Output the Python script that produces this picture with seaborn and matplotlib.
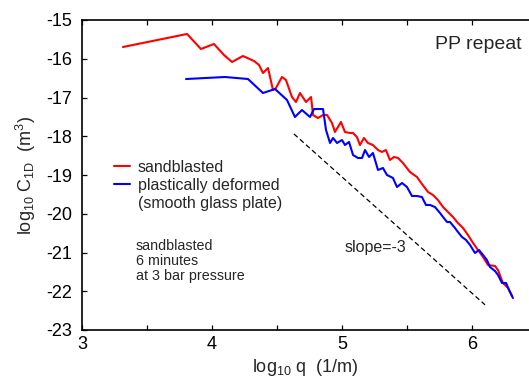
import matplotlib
matplotlib.use("Agg")
import matplotlib.pyplot as plt
import seaborn as sns
import pandas as pd
from matplotlib.lines import Line2D
from matplotlib.ticker import MultipleLocator

# ---- data ----
red_x = [3.315, 3.808, 3.915, 4.015, 4.092, 4.154, 4.238, 4.323, 4.362, 4.392, 4.431, 4.469,
         4.492, 4.538, 4.569, 4.615, 4.646, 4.677, 4.723, 4.762, 4.777, 4.815, 4.854, 4.885,
         4.923, 4.946, 4.992, 5.023, 5.062, 5.085, 5.115, 5.138, 5.169, 5.200, 5.238, 5.277,
         5.308, 5.338, 5.369, 5.400, 5.431, 5.469, 5.523, 5.577, 5.615, 5.662, 5.700, 5.738,
         5.777, 5.815, 5.854, 5.892, 5.931, 5.969, 6.008, 6.046, 6.085, 6.123, 6.177, 6.200,
         6.238, 6.277, 6.308]
red_y = [-15.697, -15.361, -15.748, -15.619, -15.903, -16.084, -15.929, -16.058, -16.161, -16.368,
         -16.239, -16.806, -16.755, -16.471, -16.548, -16.987, -17.116, -16.884, -17.116, -16.987,
         -17.452, -17.529, -17.452, -17.452, -17.658, -17.890, -17.632, -17.890, -17.916, -17.916,
         -18.019, -18.226, -18.045, -18.174, -18.226, -18.355, -18.406, -18.355, -18.613, -18.535,
         -18.561, -18.690, -18.923, -19.052, -19.232, -19.439, -19.516, -19.645, -19.826, -19.955,
         -20.084, -20.239, -20.368, -20.548, -20.755, -20.935, -21.116, -21.323, -21.348, -21.452,
         -21.787, -21.916, -22.123]

blue_x = [3.800, 4.100, 4.277, 4.392, 4.485, 4.577, 4.638, 4.692, 4.754, 4.785, 4.854, 4.877,
          4.908, 4.931, 4.962, 5.000, 5.023, 5.054, 5.085, 5.123, 5.154, 5.177, 5.208, 5.238,
          5.277, 5.315, 5.346, 5.392, 5.423, 5.462, 5.500, 5.538, 5.577, 5.615, 5.646, 5.677,
          5.715, 5.754, 5.777, 5.808, 5.831, 5.869, 5.892, 5.923, 5.954, 5.985, 6.023, 6.054,
          6.085, 6.115, 6.138, 6.177, 6.200, 6.231, 6.262, 6.285, 6.315]
blue_y = [-16.523, -16.471, -16.523, -16.884, -16.781, -17.065, -17.503, -17.323, -17.503, -17.297,
          -17.297, -17.839, -18.174, -18.045, -18.174, -18.097, -18.226, -18.148, -18.484, -18.561,
          -18.561, -18.355, -18.535, -18.432, -18.871, -18.819, -19.000, -19.077, -19.310, -19.206,
          -19.310, -19.542, -19.542, -19.568, -19.774, -19.774, -19.826, -19.981, -20.084, -20.213,
          -20.213, -20.368, -20.471, -20.600, -20.677, -20.806, -21.013, -20.935, -21.065, -21.194,
          -21.374, -21.477, -21.581, -21.787, -21.787, -21.968, -22.174]

slope_x = [4.63, 6.10]
slope_y = [-17.94, -22.35]

series_labels = ["sandblasted", "plastically deformed"]
x_ticks = [3, 4, 5, 6]
y_ticks = [-23, -22, -21, -20, -19, -18, -17, -16, -15]

df = pd.concat([
    pd.DataFrame({"x": red_x, "y": red_y, "series": series_labels[0]}),
    pd.DataFrame({"x": blue_x, "y": blue_y, "series": series_labels[1]}),
])
df_slope = pd.DataFrame({"x": slope_x, "y": slope_y})

sns.set_style("ticks")
plt.rcParams["font.family"] = ["Liberation Sans", "DejaVu Sans"]
plt.rcParams["mathtext.fontset"] = "custom"
plt.rcParams["mathtext.rm"] = "Liberation Sans"
plt.rcParams["mathtext.it"] = "Liberation Sans:italic"

fig = plt.figure(figsize=(5.29, 3.86), dpi=100)
ax = fig.add_axes([82 / 529, 56 / 386, 447 / 529, 310 / 386])

sns.lineplot(data=df, x="x", y="y", hue="series", sort=False, estimator=None,
             palette={series_labels[0]: "#ff0000", series_labels[1]: "#0000ff"},
             linewidth=1.5, legend=False, ax=ax)
sns.lineplot(data=df_slope, x="x", y="y", color="black", linewidth=0.9,
             linestyle=(0, (4, 2.5)), sort=False, estimator=None, ax=ax)

ax.set_xlim(3, 3 + 447 / 130)
ax.set_ylim(-23, -15)
ax.set_xticks(x_ticks)
ax.xaxis.set_minor_locator(MultipleLocator(0.5))
ax.set_yticks(y_ticks)
ax.set_yticklabels([str(v) for v in y_ticks])
ax.set_xticklabels([str(v) for v in x_ticks])

for s in ["left", "bottom", "top"]:
    ax.spines[s].set_visible(True)
    ax.spines[s].set_linewidth(1.2)
    ax.spines[s].set_color("black")
ax.spines["right"].set_visible(False)

ax.tick_params(axis="both", which="both", direction="in", length=3.5, width=0.9,
               labelsize=13, colors="black")
ax.tick_params(axis="x", which="both", top=True, bottom=True, pad=4.5)
ax.tick_params(axis="y", which="both", left=True, right=False, pad=7)

ax.set_xlabel(r"log$_{\mathregular{10}}$ q  (1/m)", fontsize=13, labelpad=3)
ax.set_ylabel(r"log$_{\mathregular{10}}$ C$_{\mathregular{1D}}$  (m$^{\mathregular{3}}$)",
              fontsize=13, labelpad=6)

handles = [Line2D([], [], color="#ff0000", lw=1.5),
           Line2D([], [], color="#0000ff", lw=1.5),
           Line2D([], [], color="none", lw=1.5)]
labels = ["sandblasted", "plastically deformed", "(smooth glass plate)"]
ax.legend(handles, labels, loc="center left", bbox_to_anchor=(3.25, -19.27),
          bbox_transform=ax.transData, frameon=False, fontsize=11.5,
          handlelength=1.0, handletextpad=0.45, labelspacing=0.2,
          borderpad=0, borderaxespad=0)

ax.text(3.415, -20.64, "sandblasted\n6 minutes\nat 3 bar pressure", fontsize=10.3,
        va="top", ha="left", linespacing=1.12)
ax.text(5.26, -20.88, "slope=-3", fontsize=11.5, va="center", ha="center")
ax.text(6.046, -15.645, "PP repeat", fontsize=14, va="center", ha="center")

fig.savefig("out.png", dpi=100)
